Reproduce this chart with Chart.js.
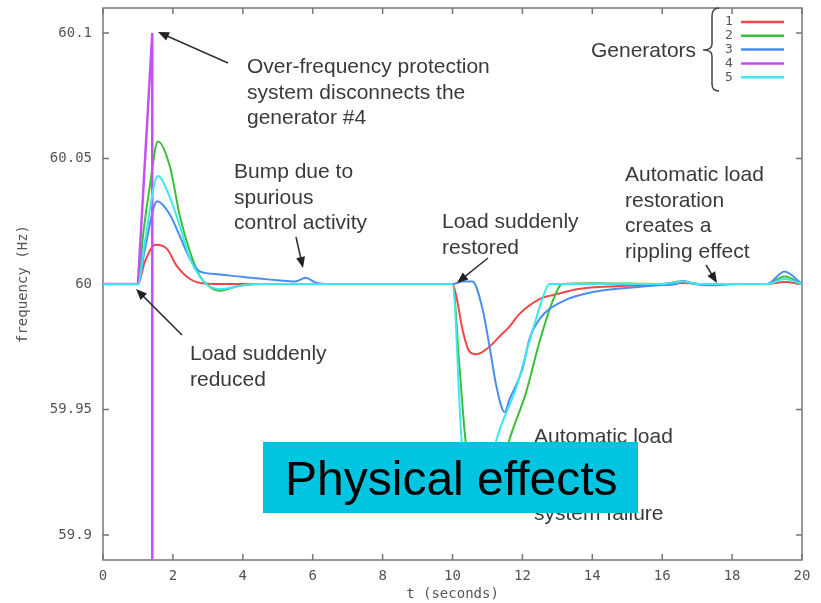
<!DOCTYPE html>
<html>
<head>
<meta charset="utf-8">
<script src="https://cdn.jsdelivr.net/npm/chart.js@4.4.1/dist/chart.umd.min.js"></script>
<style>
  html, body { margin: 0; padding: 0; background: #fff; }
  #grafico { display: block; }
</style>
</head>
<body>
<canvas id="grafico" width="821" height="603"></canvas>
<script>
// series: time (s) and frequency (Hz) per generator
const tGen1 = [0, 1.0, 1.2, 1.5, 1.83, 2.11, 2.49, 2.9, 3.5, 10.0, 10.11, 10.3, 10.49, 10.69, 11.06, 11.34, 11.63, 11.91, 12.49, 13.0, 13.6, 14.8, 16.0, 16.6, 17.2, 19.0, 19.5, 20];
const fGen1 = [60, 60, 60.009, 60.0156, 60.014, 60.0072, 60.002, 60.0002, 60, 60, 59.995, 59.981, 59.973, 59.972, 59.975, 59.979, 59.983, 59.988, 59.994, 59.996, 59.998, 59.9992, 60, 60.0004, 60, 60, 60.0008, 60];

const tGen2 = [0, 1.0, 1.15, 1.34, 1.57, 1.91, 2.2, 2.49, 2.77, 3.06, 3.34, 3.91, 4.5, 10.0, 10.2, 10.37, 10.6, 11.0, 11.3, 11.63, 12.11, 12.49, 12.86, 13.14, 14.0, 16.0, 16.6, 17.0, 19.0, 19.5, 20];
const fGen2 = [60, 60, 60.02, 60.039, 60.0568, 60.047, 60.027, 60.0128, 60.0032, 59.9988, 59.9973, 59.9993, 60, 60, 59.967, 59.938, 59.92, 59.913, 59.921, 59.938, 59.957, 59.977, 59.993, 60, 60.0003, 60, 60.0012, 60, 60, 60.003, 60];

const tGen3 = [0, 1.0, 1.2, 1.55, 1.9, 2.2, 2.49, 2.77, 3.2, 4.0, 5.0, 5.5, 5.8, 6.1, 6.5, 10.0, 10.3, 10.57, 10.86, 11.06, 11.26, 11.49, 11.63, 12.0, 12.2, 12.49, 13.14, 14.1, 15.06, 15.9, 16.4, 16.6, 16.9, 17.5, 18.2, 19.0, 19.5, 20];
const fGen3 = [60, 60, 60.014, 60.033, 60.028, 60.019, 60.01, 60.005, 60.004, 60.0028, 60.0015, 60.001, 60.0025, 60.0005, 60, 60, 60.001, 60.001, 59.99, 59.975, 59.959, 59.949, 59.954, 59.966, 59.978, 59.986, 59.993, 59.997, 59.9985, 59.9995, 60, 60.0012, 60, 59.9995, 60, 60, 60.005, 60];

const tGen4 = [0, 1.0, 1.41, 1.41];
const fGen4 = [60, 60, 60.1, 59.5];

const tGen5 = [0, 1.0, 1.2, 1.57, 1.9, 2.2, 2.49, 2.77, 3.05, 3.4, 4.0, 4.5, 10.0, 10.26, 10.5, 10.85, 11.26, 11.83, 12.2, 12.57, 12.77, 13.5, 16.0, 16.6, 17.0, 19.0, 19.5, 20];
const fGen5 = [60, 60, 60.017, 60.043, 60.035, 60.023, 60.01, 60.003, 59.999, 59.998, 59.9995, 60, 60, 59.938, 59.918, 59.913, 59.938, 59.959, 59.977, 59.994, 60, 60, 60, 60.001, 60, 60, 60.002, 60];

const generadores = ['1', '2', '3', '4', '5'];
const xTicks = [0, 2, 4, 6, 8, 10, 12, 14, 16, 18, 20];
const yTicks = [59.9, 59.95, 60, 60.05, 60.1];
const yLabels = ['59.9', '59.95', '60', '60.05', '60.1'];

const colores = ['#f04848', '#38c038', '#4a8ef0', '#c452f2', '#3ee6f0'];
const MONO = "'DejaVu Sans Mono', monospace";
const SANS = "'Liberation Sans', Arial, sans-serif";

const series = [[tGen1, fGen1], [tGen2, fGen2], [tGen3, fGen3], [tGen4, fGen4], [tGen5, fGen5]];

function flecha(ctx, x1, y1, x2, y2) {
  const ang = Math.atan2(y2 - y1, x2 - x1);
  ctx.beginPath();
  ctx.moveTo(x1, y1);
  ctx.lineTo(x2 - 8 * Math.cos(ang), y2 - 8 * Math.sin(ang));
  ctx.stroke();
  ctx.beginPath();
  ctx.moveTo(x2, y2);
  ctx.lineTo(x2 - 11 * Math.cos(ang) + 4.5 * Math.sin(ang), y2 - 11 * Math.sin(ang) - 4.5 * Math.cos(ang));
  ctx.lineTo(x2 - 11 * Math.cos(ang) - 4.5 * Math.sin(ang), y2 - 11 * Math.sin(ang) + 4.5 * Math.cos(ang));
  ctx.closePath();
  ctx.fill();
}

function texto(ctx, lineas, x, y) {
  lineas.forEach((l, i) => ctx.fillText(l, x, y + i * 25.5));
}

// marco estilo gnuplot con marcas hacia adentro
const marco = {
  id: 'marco',
  beforeDatasetsDraw(chart) {
    const { ctx, chartArea: a, scales: { x, y } } = chart;
    ctx.save();
    ctx.strokeStyle = '#777';
    ctx.lineWidth = 1.5;
    ctx.strokeRect(a.left, a.top, a.right - a.left, a.bottom - a.top);
    ctx.beginPath();
    xTicks.forEach(v => {
      const px = x.getPixelForValue(v);
      ctx.moveTo(px, a.bottom); ctx.lineTo(px, a.bottom - 6);
      ctx.moveTo(px, a.top); ctx.lineTo(px, a.top + 6);
    });
    yTicks.forEach(v => {
      const py = y.getPixelForValue(v);
      ctx.moveTo(a.left, py); ctx.lineTo(a.left + 6, py);
      ctx.moveTo(a.right, py); ctx.lineTo(a.right - 6, py);
    });
    ctx.stroke();
    ctx.restore();
  },
  afterDraw(chart) {
    const { ctx, chartArea: a } = chart;
    ctx.save();
    // titulos de ejes
    ctx.fillStyle = '#555';
    ctx.font = '14px ' + MONO;
    ctx.textAlign = 'center';
    ctx.textBaseline = 'middle';
    ctx.fillText('t (seconds)', (a.left + a.right) / 2, 594);
    ctx.save();
    ctx.translate(23, (a.top + a.bottom) / 2);
    ctx.rotate(-Math.PI / 2);
    ctx.fillText('frequency (Hz)', 0, 0);
    ctx.restore();

    // leyenda
    ctx.font = '13px ' + MONO;
    generadores.forEach((g, i) => {
      const ly = 22 + i * 13.8;
      ctx.fillStyle = '#555';
      ctx.fillText(g, 729, ly);
      ctx.strokeStyle = colores[i];
      ctx.lineWidth = 2.5;
      ctx.beginPath();
      ctx.moveTo(741, ly); ctx.lineTo(784, ly);
      ctx.stroke();
    });
    ctx.strokeStyle = '#444';
    ctx.lineWidth = 1.5;
    ctx.beginPath();
    ctx.moveTo(719, 8);
    ctx.quadraticCurveTo(712, 8, 712, 16);
    ctx.lineTo(712, 44);
    ctx.quadraticCurveTo(712, 50, 703, 50);
    ctx.quadraticCurveTo(712, 50, 712, 56);
    ctx.lineTo(712, 84);
    ctx.quadraticCurveTo(712, 91, 719, 91);
    ctx.stroke();

    // anotaciones
    ctx.fillStyle = '#3a3a3a';
    ctx.font = '21px ' + SANS;
    ctx.textAlign = 'left';
    ctx.textBaseline = 'alphabetic';
    ctx.fillText('Generators', 591, 57);
    texto(ctx, ['Over-frequency protection', 'system disconnects the', 'generator #4'], 247, 73);
    texto(ctx, ['Bump due to', 'spurious', 'control activity'], 234, 178);
    texto(ctx, ['Load suddenly', 'reduced'], 190, 360);
    texto(ctx, ['Load suddenly', 'restored'], 442, 228);
    texto(ctx, ['Automatic load', 'restoration', 'creates a', 'rippling effect'], 625, 181);
    texto(ctx, ['Automatic load', 'shedding', 'prevents', 'system failure'], 534, 443);

    ctx.strokeStyle = '#333';
    ctx.fillStyle = '#222';
    ctx.lineWidth = 1.6;
    flecha(ctx, 228, 63, 158, 32);
    flecha(ctx, 296, 237, 303, 268);
    flecha(ctx, 182, 335, 136, 289);
    flecha(ctx, 488, 258, 457, 283);
    flecha(ctx, 706, 265, 717, 283);

    // recuadro
    ctx.fillStyle = '#00c4e0';
    ctx.fillRect(263, 442, 375, 71);
    ctx.fillStyle = '#000';
    ctx.font = '48px ' + SANS;
    ctx.fillText('Physical effects', 285, 495);
    ctx.restore();
  }
};

new Chart(document.getElementById('grafico'), {
  type: 'line',
  data: {
    datasets: series.map(([t, f], i) => ({
      label: generadores[i],
      data: t.map((v, j) => ({ x: v, y: f[j] })),
      borderColor: colores[i],
      borderWidth: i === 3 ? 2.5 : 2,
      pointRadius: 0,
      tension: 0,
      cubicInterpolationMode: i === 3 ? 'default' : 'monotone',
      order: 4 - i
    }))
  },
  options: {
    responsive: false,
    animation: false,
    layout: { padding: { left: 0, top: 8, right: 19, bottom: 0 } },
    plugins: { legend: { display: false }, tooltip: { enabled: false } },
    scales: {
      x: {
        type: 'linear', min: 0, max: 20,
        afterBuildTicks: s => { s.ticks = xTicks.map(v => ({ value: v })); },
        afterFit: s => { s.height = 43; s.paddingLeft = 0; s.paddingRight = 0; },
        grid: { display: false, drawTicks: false },
        border: { display: false },
        ticks: { color: '#555', font: { family: MONO, size: 14 }, padding: 8, maxRotation: 0, autoSkip: false }
      },
      y: {
        type: 'linear', min: 59.89, max: 60.11,
        afterBuildTicks: s => { s.ticks = yTicks.map(v => ({ value: v })); },
        afterFit: s => { s.width = 103; s.paddingTop = 0; s.paddingBottom = 0; },
        grid: { display: false, drawTicks: false },
        border: { display: false },
        ticks: { color: '#555', font: { family: MONO, size: 14 }, padding: 11, callback: (v, i) => yLabels[i] }
      }
    }
  },
  plugins: [marco]
});
</script>
</body>
</html>
